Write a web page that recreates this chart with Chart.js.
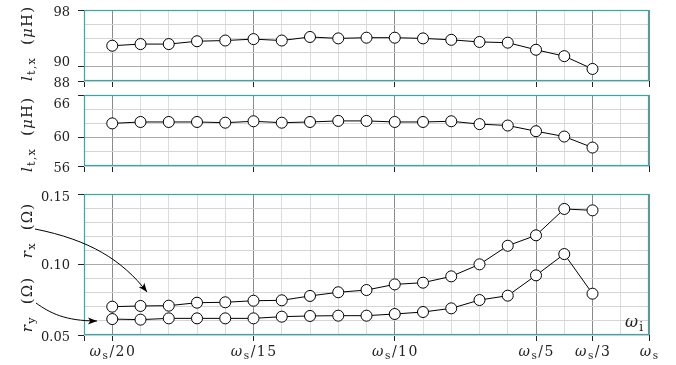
<!DOCTYPE html>
<html>
<head>
<meta charset="utf-8">
<script src="https://cdn.jsdelivr.net/npm/chart.js@4.4.1/dist/chart.umd.min.js"></script>
<style>
  html, body { margin: 0; padding: 0; background: #fff; }
  #wrap { position: relative; width: 676px; height: 365px; }
  #wrap canvas { position: absolute; left: 0; top: 0; }
</style>
</head>
<body>
<div id="wrap">
  <canvas id="c1" width="676" height="365"></canvas>
  <canvas id="c2" width="676" height="365"></canvas>
  <canvas id="c3" width="676" height="365"></canvas>
</div>
<script>
// --- DATA ---
const xIndex = [0, 1, 2, 3, 4, 5, 6, 7, 8, 9, 10, 11, 12, 13, 14, 15, 16, 17];
const xTickPos = [0, 5, 10, 15, 17, 19];
const xTickLabels = ['ω_s/20', 'ω_s/15', 'ω_s/10', 'ω_s/5', 'ω_s/3', 'ω_s'];

const ltTop = [92.97, 93.2, 93.2, 93.6, 93.7, 93.9, 93.7, 94.2, 94.0, 94.1, 94.1, 94.0, 93.8, 93.5, 93.4, 92.4, 91.5, 89.7];
const ltMid = [62.0, 62.2, 62.2, 62.2, 62.1, 62.3, 62.1, 62.2, 62.35, 62.35, 62.2, 62.2, 62.3, 61.9, 61.7, 60.9, 60.15, 58.6];
const rx = [0.0701, 0.0706, 0.0708, 0.0729, 0.0732, 0.0743, 0.0746, 0.0777, 0.0803, 0.0819, 0.0859, 0.0871, 0.0916, 0.1001, 0.1133, 0.1207, 0.1394, 0.1384];
const ry = [0.0613, 0.0609, 0.0618, 0.0618, 0.0618, 0.0618, 0.0630, 0.0635, 0.0637, 0.0637, 0.0649, 0.0663, 0.0689, 0.0748, 0.0779, 0.0923, 0.1074, 0.0793];

const topTicks = [98, 90, 88];
const midTicks = [66, 60, 56];
const botTicks = [0.15, 0.10, 0.05];

// --- STYLE ---
const SERIF = '"DejaVu Serif", "Liberation Serif", serif';
const TEAL = '#36a8a8';
const near = (a, b) => Math.abs(a - b) < 1e-6;

// segs: [text, style]  r = roman, i = italic, s = subscript ; sp = extra spacing per char
function drawMath(ctx, segs, x, y, size, align, sp) {
    sp = sp || 0;
    const fontFor = st => (st === 'i' ? 'italic ' : '') + (st === 's' ? size * 0.75 : size) + 'px ' + SERIF;
    let w = 0;
    segs.forEach(([t, st]) => {
        ctx.font = fontFor(st);
        for (const ch of t) w += ctx.measureText(ch).width + sp;
    });
    w -= sp;
    let cx = align === 'center' ? x - w / 2 : align === 'right' ? x - w : x;
    ctx.textAlign = 'left';
    ctx.textBaseline = 'alphabetic';
    segs.forEach(([t, st]) => {
        ctx.font = fontFor(st);
        for (const ch of t) {
            ctx.fillText(ch, cx, st === 's' ? y + size * 0.22 : y);
            cx += ctx.measureText(ch).width + sp;
        }
    });
}

// 'ω_s/20' -> ω italic, s subscript, rest roman
function parseLabel(str) {
    const segs = [];
    for (let i = 0; i < str.length; i++) {
        const ch = str[i];
        if (ch === '_') { segs.push([str[i + 1], 's']); i++; }
        else if (/[a-zα-ω]/.test(ch)) segs.push([ch, 'i']);
        else segs.push([ch, 'r']);
    }
    return segs;
}

function arrow(ctx, p0, c1, c2, p3) {
    ctx.beginPath();
    ctx.moveTo(p0[0], p0[1]);
    ctx.bezierCurveTo(c1[0], c1[1], c2[0], c2[1], p3[0], p3[1]);
    ctx.stroke();
    const a = Math.atan2(p3[1] - c2[1], p3[0] - c2[0]);
    const L = 9, W = 3.6;
    ctx.beginPath();
    ctx.moveTo(p3[0], p3[1]);
    ctx.lineTo(p3[0] - L * Math.cos(a) + W * Math.sin(a), p3[1] - L * Math.sin(a) - W * Math.cos(a));
    ctx.lineTo(p3[0] - L * 0.75 * Math.cos(a), p3[1] - L * 0.75 * Math.sin(a));
    ctx.lineTo(p3[0] - L * Math.cos(a) - W * Math.sin(a), p3[1] - L * Math.sin(a) + W * Math.cos(a));
    ctx.closePath();
    ctx.fill();
}

// --- DECORATION PLUGIN ---
const deco = {
    id: 'deco',
    afterDraw(chart, args, o) {
        const ctx = chart.ctx, a = chart.chartArea;
        const xs = chart.scales.x, ys = chart.scales.y;
        ctx.save();
        ctx.strokeStyle = TEAL;
        ctx.lineWidth = 1.2;
        ctx.strokeRect(Math.round(a.left) + 0.5, Math.round(a.top) + 0.5, Math.round(a.right - a.left) - 1, Math.round(a.bottom - a.top) - 1);

        ctx.fillStyle = '#222';
        ctx.font = '13px ' + SERIF;
        ctx.textAlign = 'right';
        ctx.textBaseline = 'middle';
        o.yLabels.forEach((v, i) => {
            ctx.fillText(o.fmt(v), 70, ys.getPixelForValue(v) + o.yLabelShift[i]);
        });

        if (o.xLabels) {
            xTickPos.forEach((v, i) => drawMath(ctx, parseLabel(xTickLabels[i]), xs.getPixelForValue(v), 356, 14, 'center', 1.5));
            drawMath(ctx, parseLabel('ω_i'), 643, 327, 16, 'right', 1);
        }

        o.titles.forEach(t => {
            ctx.save();
            ctx.translate(32, t.y);
            ctx.rotate(-Math.PI / 2);
            drawMath(ctx, t.segs, 0, 0, 15, 'center', 1.2);
            ctx.restore();
        });

        if (o.arrows) {
            ctx.strokeStyle = '#000';
            ctx.fillStyle = '#000';
            ctx.lineWidth = 1;
            arrow(ctx, [35, 229], [90, 240], [122, 260], [147, 292]);
            arrow(ctx, [36, 303], [50, 313], [65, 321], [97, 321]);
        }
        ctx.restore();
    }
};

// --- PANELS ---
function makePanel(id, o) {
    return new Chart(document.getElementById(id), {
        type: 'line',
        data: {
            datasets: o.series.map(s => ({
                data: xIndex.map((x, i) => ({ x: x, y: s[i] })),
                borderColor: '#000',
                borderWidth: 1,
                pointRadius: 5.5,
                pointBorderWidth: 1,
                pointBackgroundColor: '#fff',
                pointBorderColor: '#000',
                tension: 0
            }))
        },
        options: {
            responsive: false,
            animation: false,
            events: [],
            layout: { padding: { top: o.top, bottom: o.bottom, left: 0, right: 27 } },
            plugins: { legend: { display: false }, tooltip: { enabled: false }, deco: o },
            scales: {
                x: {
                    type: 'linear', min: -1, max: 19,
                    ticks: { stepSize: 1, display: false, maxTicksLimit: 100 },
                    border: { display: false },
                    grid: {
                        tickLength: 6,
                        color: c => xTickPos.some(v => near(v, c.tick.value)) ? '#8a8a8a' : '#dcdcdc',
                        tickColor: c => (c.tick.value === -1 || xTickPos.some(v => near(v, c.tick.value))) ? '#222' : 'rgba(0,0,0,0)'
                    },
                    afterFit: s => { s.height = o.xAxisH; }
                },
                y: {
                    type: 'linear', min: o.yMin, max: o.yMax,
                    ticks: { stepSize: o.yStep, display: false, maxTicksLimit: 100 },
                    border: { display: false },
                    grid: {
                        tickLength: 6,
                        color: c => near(c.tick.value, o.yMajor) ? '#aaaaaa' : '#d4d4d4',
                        tickColor: c => o.yLabels.some(v => near(v, c.tick.value)) ? '#222' : 'rgba(0,0,0,0)'
                    },
                    afterFit: s => { s.width = 84; }
                }
            }
        },
        plugins: [deco]
    });
}

const ltTitle = [['l', 'i'], ['t,x', 's'], ['  (', 'r'], ['μ', 'i'], ['H)', 'r']];

makePanel('c1', {
    series: [ltTop], top: 10, bottom: 275, xAxisH: 9,
    yMin: 88, yMax: 98, yStep: 2, yMajor: 90,
    yLabels: topTicks, yLabelShift: [2.5, -4, 2.6], fmt: v => String(v),
    titles: [{ y: 44, segs: ltTitle }]
});

makePanel('c2', {
    series: [ltMid], top: 95, bottom: 190, xAxisH: 9,
    yMin: 56, yMax: 66, yStep: 2, yMajor: 60,
    yLabels: midTicks, yLabelShift: [9.7, 0, 3], fmt: v => String(v),
    titles: [{ y: 135, segs: ltTitle }]
});

makePanel('c3', {
    series: [rx, ry], top: 194, bottom: 0, xAxisH: 30,
    yMin: 0.05, yMax: 0.15, yStep: 0.01, yMajor: 0.10,
    yLabels: botTicks, yLabelShift: [3.3, 1, 2.7], fmt: v => v.toFixed(2),
    xLabels: true, arrows: true,
    titles: [
        { y: 231, segs: [['r', 'i'], ['x', 's'], ['  (Ω)', 'r']] },
        { y: 305, segs: [['r', 'i'], ['y', 's'], ['  (Ω)', 'r']] }
    ]
});
</script>
</body>
</html>
